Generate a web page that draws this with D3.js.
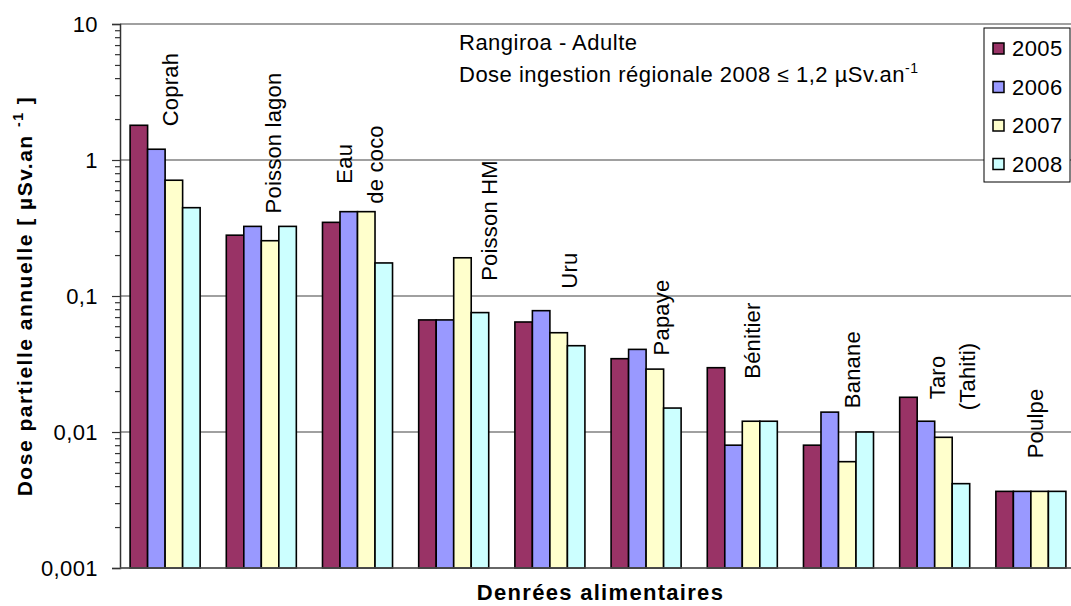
<!DOCTYPE html>
<html>
<head>
<meta charset="utf-8">
<script src="https://cdn.jsdelivr.net/npm/d3@7"></script>
<style>
  html, body { margin: 0; padding: 0; background: #fff; }
  svg { display: block; font-family: "Liberation Sans", Arial, sans-serif; }
</style>
</head>
<body>
<svg id="chart" width="1071" height="606"></svg>
<script>
// Food items (x categories) and the lines of their rotated labels
const categories = ["Coprah", "Poisson lagon", "Eau de coco", "Poisson HM", "Uru",
                    "Papaye", "Bénitier", "Banane", "Taro (Tahiti)", "Poulpe"];
const categoryLines = [["Coprah"], ["Poisson lagon"], ["Eau", "de coco"], ["Poisson HM"], ["Uru"],
                       ["Papaye"], ["Bénitier"], ["Banane"], ["Taro", "(Tahiti)"], ["Poulpe"]];

// Yearly partial dose, µSv per year
const years = ["2005", "2006", "2007", "2008"];
const dose2005 = [1.8, 0.28, 0.348, 0.0667, 0.0644, 0.0346, 0.0297, 0.008, 0.018, 0.00366];
const dose2006 = [1.2, 0.325, 0.417, 0.0667, 0.078, 0.0405, 0.008, 0.014, 0.012, 0.00366];
const dose2007 = [0.71, 0.255, 0.417, 0.191, 0.0537, 0.029, 0.012, 0.00605, 0.00914, 0.00366];
const dose2008 = [0.446, 0.325, 0.175, 0.0755, 0.0431, 0.015, 0.012, 0.01, 0.00417, 0.00366];
const seriesValues = [dose2005, dose2006, dose2007, dose2008];

// Log axis
const yTicks = [10, 1, 0.1, 0.01, 0.001];
const yTickLabels = ["10", "1", "0,1", "0,01", "0,001"];

const colors = ["#993366", "#9999FF", "#FFFFCC", "#CCFFFF"];

const svg = d3.select("#chart");
const plot = { left: 120, right: 1076, top: 24, bottom: 568 };

const x = d3.scaleBand().domain(categories)
  .range([plot.left, plot.right]).paddingInner(0.272).paddingOuter(0.105);
const xs = d3.scaleBand().domain(years).range([0, x.bandwidth()]);
const y = d3.scaleLog().domain([0.001, 10]).range([plot.bottom, plot.top]);

// Horizontal gridlines at each decade
svg.append("g").selectAll("line").data(yTicks).join("line")
  .attr("x1", plot.left).attr("x2", plot.right)
  .attr("y1", d => y(d)).attr("y2", d => y(d))
  .attr("stroke", "#808080").attr("stroke-width", 1.3);

// Bars
const groups = svg.append("g").selectAll("g").data(categories).join("g")
  .attr("transform", d => `translate(${x(d)},0)`);
groups.selectAll("rect")
  .data((c, ci) => years.map((yr, si) => ({ yr, si, v: seriesValues[si][ci] })))
  .join("rect")
  .attr("x", d => xs(d.yr))
  .attr("width", xs.bandwidth())
  .attr("y", d => y(d.v))
  .attr("height", d => y(0.001) - y(d.v))
  .attr("fill", d => colors[d.si])
  .attr("stroke", "#000").attr("stroke-width", 1.6);

// Minor ticks (2..9 within each decade)
const minor = [];
[0.001, 0.01, 0.1, 1].forEach(b => { for (let k = 2; k <= 9; k++) minor.push(b * k); });
const minorAxis = svg.append("g").attr("transform", `translate(${plot.left},0)`)
  .call(d3.axisLeft(y).tickValues(minor).tickSize(5).tickFormat(""));
minorAxis.select(".domain").remove();
minorAxis.selectAll("line").attr("stroke", "#333").attr("stroke-width", 1.2);

// Major ticks and labels
const yAxis = svg.append("g").attr("transform", `translate(${plot.left},0)`)
  .call(d3.axisLeft(y).tickValues(yTicks).tickSize(8).tickPadding(14)
    .tickFormat((d, i) => yTickLabels[i]));
yAxis.select(".domain").attr("stroke", "#333").attr("stroke-width", 1.5);
yAxis.selectAll("line").attr("stroke", "#333").attr("stroke-width", 1.2);
yAxis.selectAll("text").attr("font-size", 22).attr("fill", "#000")
  .attr("font-family", "Liberation Sans, Arial, sans-serif").attr("letter-spacing", 0.4);

// Category axis line
svg.append("line")
  .attr("x1", plot.left).attr("x2", plot.right)
  .attr("y1", y(0.001)).attr("y2", y(0.001))
  .attr("stroke", "#555").attr("stroke-width", 1.5);

// Rotated item labels: per line, offset from band start (dx) and from the tallest bar top (dy)
const labelLayout = [
  [[48, 1]], [[55, -13]], [[29.5, -28], [60.5, -8]], [[78, 23]], [[62, -22]],
  [[58, 6]], [[53, 11]], [[56.5, -4]], [[45, 2], [75, 13]], [[47, -33]]
];
categories.forEach((c, ci) => {
  const top = y(d3.max(seriesValues, s => s[ci]));
  categoryLines[ci].forEach((line, li) => {
    const [dx, dy] = labelLayout[ci][li];
    const px = x(c) + dx, py = top + dy;
    svg.append("text")
      .attr("transform", `translate(${px},${py}) rotate(-90)`)
      .attr("font-size", 22).attr("letter-spacing", 0.2)
      .text(line);
  });
});

// Titles
svg.append("text")
  .attr("x", (plot.left + 1071) / 2 + 5).attr("y", 600)
  .attr("text-anchor", "middle").attr("font-weight", "bold")
  .attr("font-size", 22).attr("letter-spacing", 1.3)
  .text("Denrées alimentaires");

const yTitle = svg.append("text")
  .attr("transform", `translate(32,${(plot.top + plot.bottom) / 2}) rotate(-90)`)
  .attr("text-anchor", "middle").attr("font-weight", "bold")
  .attr("font-size", 21).attr("letter-spacing", 1.5);
yTitle.append("tspan").text("Dose partielle annuelle [ µSv.an ");
yTitle.append("tspan").attr("dy", -9).attr("font-size", 14).text("-1");
yTitle.append("tspan").attr("dy", 9).text(" ]");

// Annotation
const note = svg.append("g").attr("font-size", 22).attr("letter-spacing", 0.5);
note.append("text").attr("x", 459).attr("y", 50).text("Rangiroa - Adulte");
const l2 = note.append("text").attr("x", 459).attr("y", 82);
l2.append("tspan").text("Dose ingestion régionale 2008 ");
l2.append("tspan").attr("font-size", 21).text("≤");
l2.append("tspan").text(" 1,2 µSv.an");
l2.append("tspan").attr("dy", -9).attr("font-size", 14).text("-1");

// Legend
const legend = svg.append("g");
legend.append("rect").attr("x", 984).attr("y", 28).attr("width", 86).attr("height", 154)
  .attr("fill", "#fff").attr("stroke", "#000").attr("stroke-width", 1);
years.forEach((yr, i) => {
  const cy = 48 + i * 38.5;
  legend.append("rect").attr("x", 993).attr("y", cy - 5).attr("width", 11).attr("height", 11)
    .attr("fill", colors[i]).attr("stroke", "#000").attr("stroke-width", 1.5);
  legend.append("text").attr("x", 1012).attr("y", cy + 8)
    .attr("font-size", 22).attr("letter-spacing", 0.4).text(yr);
});
</script>
</body>
</html>
